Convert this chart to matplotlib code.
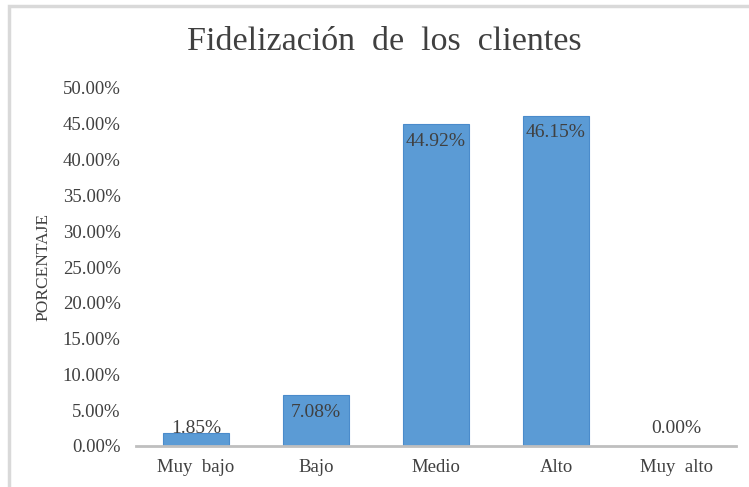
import matplotlib.pyplot as plt
from matplotlib.patches import Rectangle

categorias = ["Muy  bajo", "Bajo", "Medio", "Alto", "Muy  alto"]
porcentajes = [1.85, 7.08, 44.92, 46.15, 0.00]
ticks_y = [0, 5, 10, 15, 20, 25, 30, 35, 40, 45, 50]

plt.rcParams['font.family'] = ['Liberation Serif', 'DejaVu Serif']

fig = plt.figure(figsize=(7.49, 4.87), dpi=100)
ax = fig.add_axes([136 / 749, 1 - 446 / 487, 600 / 749, 358 / 487])

# marco gris del grafico
fig.patches.append(Rectangle((9 / 749, -0.1), 1.2, 1 - 6 / 487 + 0.1,
                             transform=fig.transFigure, fill=False,
                             edgecolor="#D9D9D9", linewidth=2.5))

x = range(len(categorias))
ax.bar(x, porcentajes, width=0.55, color="#5B9BD5", edgecolor="#4A8BCB",
       linewidth=0.8, zorder=2)

for i, v in zip(x, porcentajes):
    ax.text(i, max(v - 2.4, 2.5), f"{v:.2f}%", ha="center", va="center",
            fontsize=14, color="#404040", zorder=3)

ax.set_xlim(-0.5, len(categorias) - 0.5)
ax.set_ylim(0, 50)
ax.set_yticks(ticks_y)
ax.set_yticklabels([f"{t:.2f}%" for t in ticks_y])
ax.set_xticks(list(x))
ax.set_xticklabels(categorias)
ax.tick_params(axis="both", length=0, labelsize=13.5, colors="#404040")
ax.tick_params(axis="y", pad=11)
ax.tick_params(axis="x", pad=9)

for s in ["top", "right", "left"]:
    ax.spines[s].set_visible(False)
ax.spines["bottom"].set_color("#BFBFBF")
ax.spines["bottom"].set_linewidth(2)

ax.set_ylabel("PORCENTAJE", fontsize=12.5, color="#404040", labelpad=8)
fig.text(384 / 749, 1 - 42 / 487, "Fidelización  de  los  clientes",
         ha="center", va="center", fontsize=24.5, color="#404040")

fig.savefig("out.png", dpi=100)
